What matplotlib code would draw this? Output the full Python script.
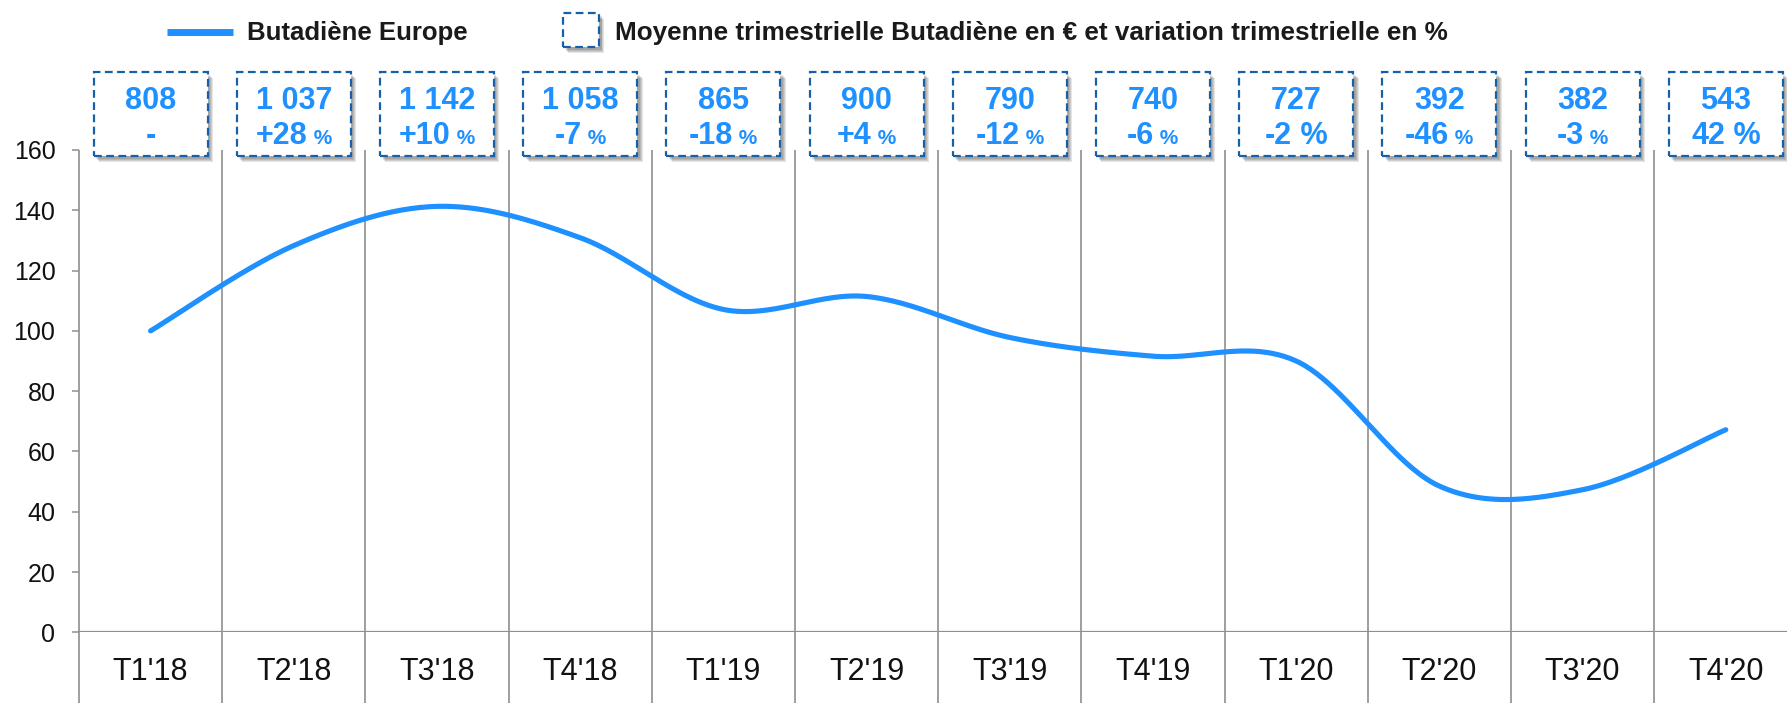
import matplotlib
matplotlib.use('Agg')
import matplotlib.pyplot as plt
import matplotlib.patches as mpatches
import matplotlib.patheffects as pe
import matplotlib.transforms as mtransforms
from matplotlib.lines import Line2D
from matplotlib.offsetbox import TextArea, HPacker, AnnotationBbox
import numpy as np

plt.rcParams['font.family'] = ['Liberation Sans', 'DejaVu Sans']

# quarterly data, index base 100 = T1'18
quarters = ["T1'18", "T2'18", "T3'18", "T4'18", "T1'19", "T2'19",
            "T3'19", "T4'19", "T1'20", "T2'20", "T3'20", "T4'20"]
index_values = [100, 128.3, 141.3, 130.9, 107.1, 111.4,
                97.8, 91.6, 90.0, 48.5, 47.3, 67.2]
avg_price = ['808', '1 037', '1 142', '1 058', '865', '900',
             '790', '740', '727', '392', '382', '543']
variation = ['-', '+28', '+10', '-7', '-18', '+4',
             '-12', '-6', '-2', '-46', '-3', '42']
full_size_pct = {8, 11}

BLUE = '#1e90ff'
DARK = '#1560a8'
GRID = '#8f8f8f'
TXT = '#111111'

W, H = 1787, 703


def bezier(p0, p1, p2, p3, t):
    return ((1 - t) ** 3 * p0 + 3 * (1 - t) ** 2 * t * p1
            + 3 * (1 - t) * t ** 2 * p2 + t ** 3 * p3)


def smooth_line(y, n=50):
    # same kind of smoothing a spreadsheet "smoothed line" uses
    y = np.asarray(y, float)
    x = np.arange(len(y)) + 0.5
    t = np.linspace(0, 1, n)
    xs, ys = [], []
    for i in range(len(y) - 1):
        a = i - 1 if i > 0 else i
        b = i + 2 if i + 2 < len(y) else i + 1
        cx1 = x[i] + (x[i + 1] - x[a]) / 6
        cy1 = y[i] + (y[i + 1] - y[a]) / 6
        cx2 = x[i + 1] - (x[b] - x[i]) / 6
        cy2 = y[i + 1] - (y[b] - y[i]) / 6
        xs.append(bezier(x[i], cx1, cx2, x[i + 1], t))
        ys.append(bezier(y[i], cy1, cy2, y[i + 1], t))
    return np.concatenate(xs), np.concatenate(ys)


def shadow():
    fx = [pe.SimplePatchShadow(offset=(1.8 + 0.7 * k, -2.4 - 0.7 * k),
                               shadow_rgbFace='black', alpha=0.1)
          for k in range(4)]
    return fx + [pe.Normal()]


fig = plt.figure(figsize=(W / 100, H / 100), dpi=100)
ax = fig.add_axes([79 / W, 70.7 / H, 1718.4 / W, 482.3 / H])

n = len(quarters)
centers = np.arange(n) + 0.5

# category separators, running down through the label area
ax.vlines(np.arange(n + 1), -40, 160, color=GRID, lw=1.2,
          clip_on=False, zorder=1)
ax.axhline(0, color=GRID, lw=1.6, zorder=1)

sx, sy = smooth_line(index_values)
ax.plot(sx, sy, color=BLUE, lw=3.7, solid_capstyle='round', zorder=3)

for s in ax.spines.values():
    s.set_visible(False)

ax.set_yticks(range(0, 161, 20))
ax.tick_params(axis='y', length=5, width=1.1, color=GRID, pad=12,
               labelsize=18, labelcolor=TXT)
ax.set_xticks(centers, quarters)
ax.tick_params(axis='x', length=0, pad=18, labelsize=22, labelcolor=TXT)

# boxes with quarterly average price and change
bt = mtransforms.blended_transform_factory(ax.transData, fig.transFigure)
bw = 0.796
for i in range(n):
    rect = mpatches.Rectangle((centers[i] - bw / 2, (H - 156) / H), bw,
                              84 / H, transform=bt, facecolor='white',
                              edgecolor=DARK, lw=1.6,
                              linestyle=(0, (3.5, 2)), clip_on=False,
                              zorder=5)
    rect.set_path_effects(shadow())
    ax.add_patch(rect)
    ax.text(centers[i], (H - 101) / H, avg_price[i], transform=bt,
            ha='center', va='center', fontsize=22, fontweight='bold',
            color=BLUE, zorder=6)
    parts = [TextArea(variation[i], textprops=dict(
        fontsize=22, fontweight='bold', color=BLUE))]
    if variation[i] != '-':
        size = 22 if i in full_size_pct else 15
        parts.append(TextArea(' %', textprops=dict(
            fontsize=size, fontweight='bold', color=BLUE)))
    pack = HPacker(children=parts, align='baseline', pad=0, sep=0)
    ab = AnnotationBbox(pack, (centers[i], (H - 136) / H), xycoords=bt,
                        frameon=False, box_alignment=(0.5, 0.5),
                        annotation_clip=False, zorder=6)
    ax.add_artist(ab)

ax.set_xlim(0, n)
ax.set_ylim(0, 160)

# legend
fig.add_artist(Line2D([167 / W, 233 / W], [1 - 32 / H] * 2, color=BLUE,
                      lw=5, solid_capstyle='butt'))
fig.text(247 / W, 1 - 33 / H, 'Butadiène Europe', fontsize=18.5,
         fontweight='bold', color='#1a1a1a', va='center')
leg_box = mpatches.Rectangle((563 / W, 1 - 47 / H), 36 / W, 34 / H,
                             transform=fig.transFigure, facecolor='white',
                             edgecolor=DARK, lw=1.6,
                             linestyle=(0, (3.5, 2)))
leg_box.set_path_effects(shadow())
fig.add_artist(leg_box)
fig.text(615 / W, 1 - 33 / H,
         'Moyenne trimestrielle Butadiène en € et variation trimestrielle en %',
         fontsize=18.8, fontweight='bold', color='#1a1a1a', va='center')

fig.savefig('out.png', dpi=100)
